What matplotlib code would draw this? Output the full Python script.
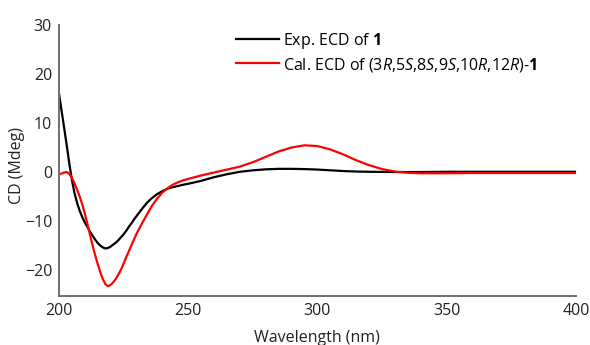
import matplotlib
matplotlib.use("Agg")
import matplotlib.pyplot as plt

plt.rcParams['font.family'] = ['Open Sans', 'DejaVu Sans']
plt.rcParams['mathtext.fontset'] = 'custom'
plt.rcParams['mathtext.rm'] = 'Open Sans'
plt.rcParams['mathtext.it'] = 'Open Sans:italic'
plt.rcParams['mathtext.bf'] = 'Open Sans:bold'

exp_wl = [200, 201, 202, 203, 204, 205, 206, 207, 208, 209, 210, 211, 212, 213, 214,
          215, 216, 217, 218, 219, 220, 221, 222, 223, 224, 225, 226, 227, 228, 229,
          230, 232, 234, 236, 238, 240, 242, 244, 246, 248, 250, 255, 260, 265, 270,
          275, 280, 285, 290, 295, 300, 305, 310, 315, 320, 330, 340, 350, 360, 370,
          380, 390, 400]
exp_cd = [16.0, 12.5, 9.0, 5.4, 1.7, -1.6, -4.3, -6.3, -7.9, -9.2, -10.3, -11.2, -12.2, -13.0, -13.8,
          -14.5, -15.0, -15.4, -15.6, -15.5, -15.2, -14.8, -14.4, -13.9, -13.3, -12.7, -12.0, -11.2, -10.5, -9.7,
          -9.0, -7.6, -6.3, -5.3, -4.5, -3.9, -3.4, -3.1, -2.85, -2.6, -2.4, -1.8, -1.05, -0.45, 0.05,
          0.35, 0.55, 0.65, 0.65, 0.6, 0.5, 0.35, 0.2, 0.1, 0.05, 0.0, 0.0, 0.05, 0.05, 0.05,
          0.05, 0.05, 0.05]

cal_wl = [200, 201, 202, 203, 204, 205, 206, 207, 208, 209, 210, 211, 212, 213, 214,
          215, 216, 217, 218, 219, 220, 221, 222, 223, 224, 225, 226, 227, 228, 229,
          230, 232, 234, 236, 238, 240, 242, 244, 246, 248, 250, 255, 260, 265, 270,
          275, 280, 285, 290, 295, 300, 305, 310, 315, 320, 325, 330, 335, 340, 350,
          360, 370, 380, 390, 400]
cal_cd = [-0.5, -0.3, -0.1, 0.0, -0.4, -1.2, -2.3, -3.6, -5.0, -6.6, -8.5, -10.6, -12.8, -15.0, -17.0,
          -18.8, -20.5, -21.9, -22.9, -23.3, -23.0, -22.5, -21.8, -20.9, -19.9, -18.7, -17.4, -16.2, -15.0, -13.8,
          -12.6, -10.6, -8.7, -6.9, -5.4, -4.2, -3.3, -2.6, -2.1, -1.7, -1.4, -0.7, -0.1, 0.5, 1.1,
          2.0, 3.1, 4.2, 5.0, 5.45, 5.3, 4.6, 3.6, 2.4, 1.4, 0.6, 0.1, -0.15, -0.25, -0.25,
          -0.2, -0.2, -0.2, -0.2, -0.2]

x_ticks = [200, 250, 300, 350, 400]
y_ticks = [-20, -10, 0, 10, 20, 30]

fig = plt.figure(figsize=(5.9, 3.45), dpi=100)
ax = fig.add_axes([0.1, 0.142, 0.876, 0.7855])

ax.plot(exp_wl, exp_cd, color='black', lw=1.6, label=r'Exp. ECD of $\mathbf{1}$')
ax.plot(cal_wl, cal_cd, color='#ff0000', lw=1.6,
        label=r'Cal. ECD of (3$\mathit{R}$,5$\mathit{S}$,8$\mathit{S}$,9$\mathit{S}$,10$\mathit{R}$,12$\mathit{R}$)-$\mathbf{1}$')

ax.set_xlim(200, 400)
ax.set_ylim(-25.3, 30)
ax.set_xticks(x_ticks)
ax.set_yticks(y_ticks)
ax.tick_params(length=0, labelsize=11.5, colors='#222222', pad=5)
for s in ['top', 'right']:
    ax.spines[s].set_visible(False)
for s in ['left', 'bottom']:
    ax.spines[s].set_color('#6e6e6e')
    ax.spines[s].set_linewidth(1.4)

ax.set_xlabel('Wavelength (nm)', fontsize=11.5, color='#222222', labelpad=8)
fig.text(17 / 590, 1 - 166 / 345, 'CD (Mdeg)', rotation=90, fontsize=11.5, color='#222222',
         ha='center', va='center')

ax.legend(loc='upper left', bbox_to_anchor=(0.32, 1.02), frameon=False, fontsize=11.5,
          handlelength=2.7, handletextpad=0.25, labelspacing=0.3, borderaxespad=0.3)

fig.savefig('out.png', dpi=100)
